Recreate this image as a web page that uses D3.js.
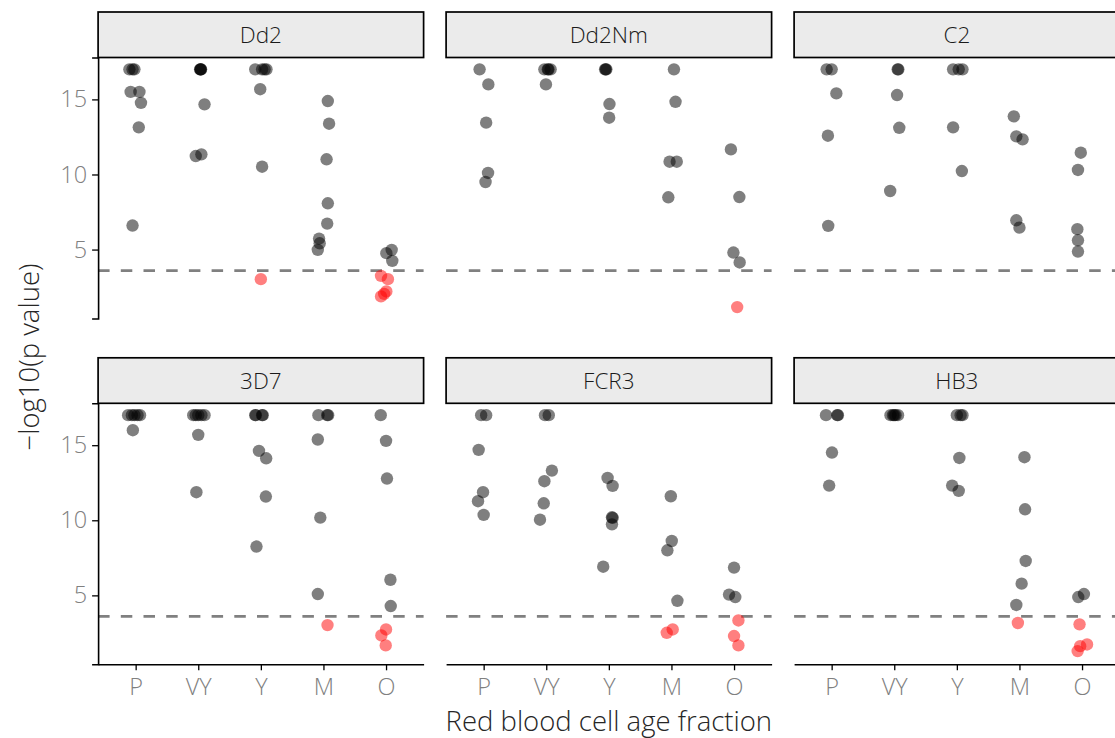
<!DOCTYPE html>
<html>
<head>
<meta charset="utf-8">
<script src="https://cdn.jsdelivr.net/npm/d3@7"></script>
<style>
  body { margin: 0; background: #fff; }
  svg text { font-family: "Open Sans", "Liberation Sans", sans-serif; font-weight: 300; }
</style>
</head>
<body>
<div id="plot"></div>
<script>
// categories
const strains = ['Dd2', 'Dd2Nm', 'C2', '3D7', 'FCR3', 'HB3'];
const fractions = ['P', 'VY', 'Y', 'M', 'O'];
const yTicks = [5, 10, 15];
const threshold = 3.6;

// [fraction, -log10(p), jitter (in category steps)]
const dd2 = [
  ['P',17,-0.10],['P',17,-0.05],['P',17,-0.02],['P',15.5,-0.08],['P',15.5,0.06],['P',14.77,0.085],['P',13.14,0.05],['P',6.6,-0.05],
  ['VY',17,0.03],['VY',17,0.035],['VY',17,0.04],['VY',17,0.045],['VY',14.67,0.10],['VY',11.23,-0.04],['VY',11.34,0.05],
  ['Y',17,-0.09],['Y',17,0.02],['Y',17,0.06],['Y',17,0.09],['Y',15.68,-0.01],['Y',10.52,0.02],['Y',3.03,0],
  ['M',14.89,0.07],['M',13.38,0.09],['M',11.01,0.05],['M',8.08,0.07],['M',6.73,0.06],['M',5.73,-0.07],['M',5.42,-0.06],['M',4.98,-0.09],
  ['O',4.98,0.09],['O',4.76,0.005],['O',4.25,0.1],['O',3.25,-0.08],['O',3.03,0.03],['O',2.21,0.005],['O',2.05,-0.03],['O',1.88,-0.08]
];
const dd2nm = [
  ['P',17,-0.065],['P',16.0,0.075],['P',13.45,0.04],['P',10.1,0.07],['P',9.5,0.03],
  ['VY',17,-0.03],['VY',17,0.025],['VY',17,0.035],['VY',17,0.07],['VY',16.0,-0.005],
  ['Y',17,-0.06],['Y',17,-0.05],['Y',17,-0.04],['Y',14.69,0.01],['Y',13.78,0.005],
  ['M',17,0.04],['M',14.84,0.065],['M',10.85,-0.03],['M',10.85,0.085],['M',8.48,-0.05],
  ['O',11.67,-0.05],['O',8.5,0.085],['O',4.8,-0.01],['O',4.14,0.09],['O',1.17,0.05]
];
const c2 = [
  ['P',17,-0.08],['P',17,0.0],['P',15.4,0.075],['P',12.58,-0.06],['P',6.58,-0.055],
  ['VY',17,0.055],['VY',17,0.065],['VY',15.29,0.045],['VY',13.11,0.08],['VY',8.9,-0.065],
  ['Y',17,-0.06],['Y',17,0.03],['Y',17,0.09],['Y',13.14,-0.06],['Y',10.23,0.08],
  ['M',13.87,-0.09],['M',12.54,-0.05],['M',12.34,0.05],['M',6.95,-0.05],['M',6.46,0.0],
  ['O',11.45,-0.02],['O',10.3,-0.065],['O',6.36,-0.075],['O',5.62,-0.065],['O',4.87,-0.065]
];
const s3d7 = [
  ['P',17,-0.12],['P',17,-0.06],['P',17,-0.02],['P',17,0.03],['P',17,0.07],['P',16.0,-0.045],
  ['VY',17,-0.08],['VY',17,-0.04],['VY',17,0.0],['VY',17,0.05],['VY',17,0.1],['VY',15.69,0.0],['VY',11.87,-0.03],
  ['Y',17,-0.09],['Y',17,-0.08],['Y',17,0.02],['Y',17,0.03],['Y',14.62,-0.03],['Y',14.13,0.085],['Y',11.58,0.08],['Y',8.25,-0.07],
  ['M',17,-0.08],['M',17,0.06],['M',17,0.075],['M',15.38,-0.09],['M',10.18,-0.05],['M',5.09,-0.09],['M',3.02,0.065],
  ['O',17,-0.085],['O',15.29,0.0],['O',12.78,0.015],['O',6.04,0.07],['O',4.29,0.075],['O',2.73,0.0],['O',2.33,-0.075],['O',1.67,-0.005]
];
const fcr3 = [
  ['P',17,-0.04],['P',17,0.04],['P',14.69,-0.08],['P',11.87,-0.01],['P',11.27,-0.09],['P',10.36,0.0],
  ['VY',17,-0.02],['VY',17,0.04],['VY',13.31,0.09],['VY',12.6,-0.03],['VY',11.13,-0.04],['VY',10.04,-0.1],
  ['Y',12.82,-0.02],['Y',12.29,0.06],['Y',10.2,0.05],['Y',10.16,0.06],['Y',9.73,0.05],['Y',6.91,-0.09],
  ['M',11.6,-0.01],['M',8.62,0.005],['M',8.0,-0.065],['M',4.64,0.095],['M',2.73,0.02],['M',2.51,-0.075],
  ['O',6.85,0.0],['O',5.05,-0.08],['O',4.89,0.02],['O',3.33,0.07],['O',2.29,0.0],['O',1.67,0.07]
];
const hb3 = [
  ['P',17,-0.09],['P',17,0.09],['P',17,0.1],['P',14.51,0.005],['P',12.31,-0.04],
  ['VY',17,-0.06],['VY',17,-0.02],['VY',17,0.0],['VY',17,0.02],['VY',17,0.06],
  ['Y',17,0.0],['Y',17,0.06],['Y',17,0.09],['Y',14.15,0.04],['Y',12.31,-0.075],['Y',11.96,0.03],
  ['M',14.2,0.08],['M',10.73,0.09],['M',7.29,0.1],['M',5.78,0.035],['M',4.36,-0.05],['M',3.16,-0.025],
  ['O',4.89,-0.06],['O',5.09,0.03],['O',3.07,-0.04],['O',1.73,0.08],['O',1.62,-0.03],['O',1.29,-0.07]
];
const panelData = [dd2, dd2nm, c2, s3d7, fcr3, hb3];

const width = 1115;
const height = 738;
const pw = 325.5;           // panel width
const ph = 261;             // panel height
const gapX = 22.5;
const left = 98.1;
const stripH = 45.5;
const rowTop = [57.5, 403.3];

const svg = d3.select('#plot')
  .append('svg')
  .attr('width', width)
  .attr('height', height)
  .attr('viewBox', [0, 0, width, height]);

const x = d3.scalePoint()
  .domain(fractions)
  .range([0, pw])
  .padding(0.6);

const y = d3.scaleLinear()
  .domain([0.41, 17.79])
  .range([ph, 0]);

strains.forEach((name, i) => {
  const col = i % 3, row = Math.floor(i / 3);
  const g = svg.append('g')
    .attr('transform', `translate(${left + col * (pw + gapX)},${rowTop[row]})`);

  // strip
  g.append('rect')
    .attr('x', 0).attr('y', -stripH)
    .attr('width', pw).attr('height', stripH)
    .attr('fill', '#ebebeb')
    .attr('stroke', '#000')
    .attr('stroke-width', 1.7);
  g.append('text')
    .attr('x', pw / 2).attr('y', -stripH / 2 + 8)
    .attr('text-anchor', 'middle')
    .attr('font-size', 22.5)
    .attr('fill', '#1a1a1a')
    .text(name);

  // threshold line
  g.append('line')
    .attr('x1', 0).attr('x2', pw)
    .attr('y1', y(threshold)).attr('y2', y(threshold))
    .attr('stroke', '#808080')
    .attr('stroke-width', 2.6)
    .attr('stroke-dasharray', '11.5,11.2');

  // points
  g.append('g')
    .selectAll('circle')
    .data(panelData[i])
    .join('circle')
    .attr('cx', d => x(d[0]) + d[2] * x.step())
    .attr('cy', d => y(d[1]))
    .attr('r', 6.2)
    .attr('fill', d => d[1] < threshold ? '#ff0000' : '#000000')
    .attr('fill-opacity', 0.5);

  // axes
  if (col === 0) {
    const ya = g.append('g')
      .call(d3.axisLeft(y).tickValues(yTicks).tickSize(6).tickPadding(5));
    ya.select('.domain').attr('stroke-width', 1.6);
    ya.selectAll('.tick line').attr('stroke-width', 1.3);
    ya.selectAll('.tick text')
      .attr('font-size', 23.5)
      .attr('font-family', '"Open Sans", sans-serif')
      .attr('fill', '#808080');
  }
  if (row === 1) {
    const xa = g.append('g')
      .attr('transform', `translate(0,${ph})`)
      .call(d3.axisBottom(x).tickSize(6).tickPadding(8).tickSizeOuter(0));
    xa.select('.domain').attr('stroke-width', 1.6);
    xa.selectAll('.tick line').attr('stroke-width', 1.3);
    xa.selectAll('.tick text')
      .attr('font-size', 23.5)
      .attr('font-family', '"Open Sans", sans-serif')
      .attr('fill', '#808080');
  }
});

// axis titles
svg.append('text')
  .attr('x', left + (3 * pw + 2 * gapX) / 2)
  .attr('y', 731)
  .attr('text-anchor', 'middle')
  .attr('font-size', 27.5)
  .attr('fill', '#262626')
  .text('Red blood cell age fraction');

svg.append('text')
  .attr('transform', 'translate(39,357) rotate(-90)')
  .attr('text-anchor', 'middle')
  .attr('font-size', 27.5)
  .attr('fill', '#262626')
  .text('\u2212log10(p value)');
</script>
</body>
</html>
